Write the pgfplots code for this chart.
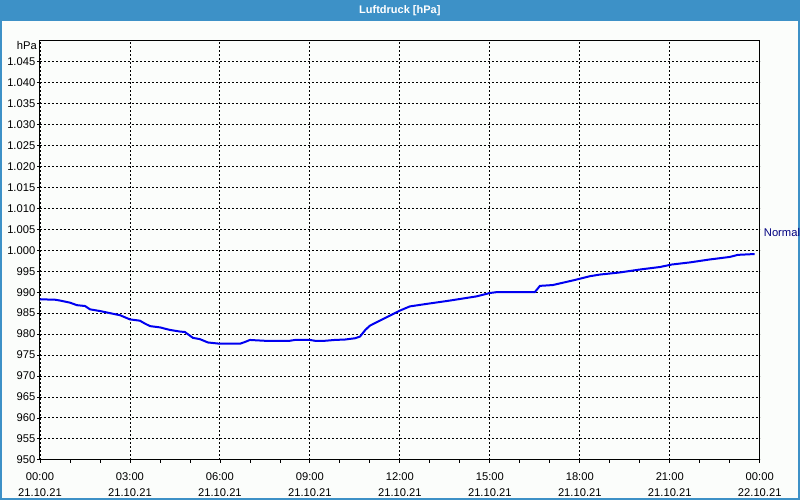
\documentclass[border=0pt]{standalone}
\usepackage{fontspec}
\setmainfont{Liberation Sans}
\usepackage{pgfplots}
\pgfplotsset{compat=1.18}
\definecolor{titlebar}{HTML}{3D91C7}
\definecolor{bg}{HTML}{FBFDFB}
\definecolor{navyc}{HTML}{000080}
\definecolor{linec}{HTML}{0000F0}
\begin{document}
\begin{tikzpicture}[x=1pt,y=1pt]
\fill[bg] (0,0) rectangle (800,500);
\fill[titlebar] (0,479) rectangle (800,500);
\draw[titlebar, line width=2pt] (1,1) rectangle (799,499);
\node[white, font=\fontsize{11}{13}\selectfont\bfseries] at (400,489.5) {Luftdruck [hPa]};
\begin{axis}[
  at={(40pt,40pt)}, anchor=south west, scale only axis,
  width=720pt, height=419.3pt,
  xmin=0, xmax=24, ymin=950, ymax=1050,
  axis line style={black, line width=1pt},
  xtick={0,3,...,24},
  xticklabels={{00:00\\21.10.21},{03:00\\21.10.21},{06:00\\21.10.21},{09:00\\21.10.21},{12:00\\21.10.21},{15:00\\21.10.21},{18:00\\21.10.21},{21:00\\21.10.21},{00:00\\22.10.21}},
  minor xtick={1,2,4,5,7,8,10,11,13,14,16,17,19,20,22,23},
  ytick={950,955,...,1045},
  tick align=outside, tick pos=left,
  major tick length=3pt, minor tick length=3pt,
  tick style={black, line width=0.8pt},
  xmajorgrids, ymajorgrids,
  major grid style={black, line width=0.9pt, dash pattern=on 2.2pt off 1.8pt},
  /pgf/number format/.cd, 1000 sep={.}, assume math mode=true, /pgfplots/.cd,
  ticklabel style={font=\fontsize{11.2}{16}\selectfont, black},
  xticklabel style={align=center, inner sep=2pt, yshift=-7.5pt},
  yticklabel style={inner sep=1.5pt},
  clip=false,
]
\addplot[linec, line width=2pt] coordinates {
(0,988.3) (0.5,988.2) (0.67,988.0) (1.0,987.5) (1.23,986.9) (1.5,986.7)
(1.67,985.9) (2.0,985.5) (2.33,985.0) (2.67,984.5) (3.0,983.5) (3.33,983.2)
(3.5,982.5) (3.67,981.9) (4.0,981.6) (4.33,981.0) (4.67,980.6) (4.83,980.5)
(5.1,979.1) (5.33,978.8) (5.6,978.0) (6.0,977.7) (6.67,977.7) (6.83,978.1)
(7.0,978.6) (7.5,978.4) (8.33,978.4) (8.5,978.6) (9.0,978.6) (9.17,978.4)
(9.5,978.4) (9.83,978.6) (10.17,978.7) (10.5,979.0) (10.67,979.4) (10.85,981.0)
(11.0,982.0) (11.44,983.6) (11.78,984.8) (12.0,985.6) (12.33,986.6) (12.89,987.2)
(13.67,988.0) (14.56,989.0) (15.0,989.8) (15.22,990.0) (16.5,990.0) (16.67,991.5)
(17.1,991.7) (17.89,993.0) (18.33,993.8) (18.67,994.2) (19.33,994.7) (20.0,995.4)
(20.67,996.0) (21.07,996.6) (21.67,997.1) (22.33,997.8) (23.0,998.4) (23.27,998.9)
(23.83,999.1)
};
\node[anchor=east, font=\fontsize{11.2}{13}\selectfont, inner sep=0pt] at (rel axis cs:0,1) [xshift=-3pt, yshift=-5pt] {hPa};
\node[anchor=west, font=\fontsize{11.2}{13}\selectfont, text=navyc, inner sep=0pt] at (rel axis cs:1,0.5) [xshift=4pt, yshift=17.5pt] {Normal};
\end{axis}
\end{tikzpicture}
\end{document}
